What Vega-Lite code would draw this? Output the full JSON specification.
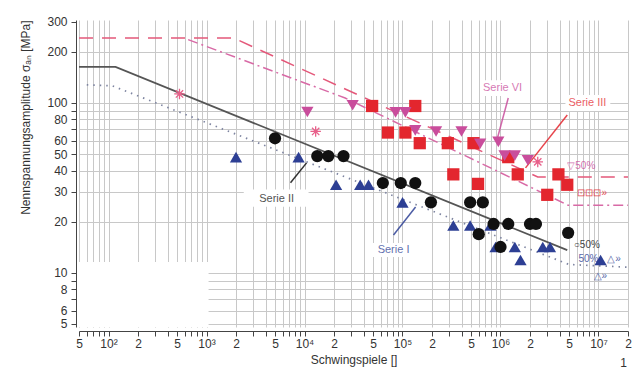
{
  "$schema": "https://vega.github.io/schema/vega-lite/v6.json",
  "width": 549,
  "height": 307,
  "autosize": {"type": "none"},
  "padding": {"left": 79, "top": 20, "right": 10, "bottom": 54},
  "background": "white",
  "config": {"view": {"stroke": null}, "font": "Liberation Sans"},
  "layer": [
    {
      "data": {"values": [
        {"box": "legend", "n0": 50, "n1": 1050, "s0": 4.8, "s1": 11.6},
        {"box": "Serie II", "n0": 2400, "n1": 11000, "s0": 24.5, "s1": 31},
        {"box": "Serie I", "n0": 49000, "n1": 130000, "s0": 12.4, "s1": 15.0},
        {"box": "Serie VI", "n0": 625000, "n1": 1800000, "s0": 110, "s1": 136},
        {"box": "Serie III", "n0": 4600000, "n1": 13200000, "s0": 89.7, "s1": 111.5}
      ]},
      "mark": {"type": "rect", "fill": "white"},
      "encoding": {
        "x": {"field": "n0", "type": "quantitative",
          "scale": {"type": "log", "domain": [50, 20000000], "nice": false},
          "axis": {
            "values": [50,60,70,80,90,100,200,300,400,500,600,700,800,900,1000,2000,3000,4000,5000,6000,7000,8000,9000,10000,20000,30000,40000,50000,60000,70000,80000,90000,100000,200000,300000,400000,500000,600000,700000,800000,900000,1000000,2000000,3000000,4000000,5000000,6000000,7000000,8000000,9000000,10000000,20000000],
            "labelExpr": "round(datum.value/pow(10,floor(log(datum.value)/LN10+1e-6))) == 1 ? '10' + ['⁰','¹','²','³','⁴','⁵','⁶','⁷'][floor(log(datum.value)/LN10+1e-6)] : ((round(datum.value/pow(10,floor(log(datum.value)/LN10+1e-6))) == 2 || round(datum.value/pow(10,floor(log(datum.value)/LN10+1e-6))) == 5) ? '' + round(datum.value/pow(10,floor(log(datum.value)/LN10+1e-6))) : '')",
            "labelOverlap": false, "labelFlush": false,
            "labelFontSize": 12, "labelColor": "#333", "labelPadding": 2,
            "offset": 4, "tickSize": 5, "tickColor": "#444", "domainColor": "#444",
            "grid": true, "gridColor": "#c8c8c8", "gridWidth": 1,
            "title": "Schwingspiele []", "titleFontSize": 12, "titleFontWeight": "normal",
            "titleColor": "#333", "titlePadding": 5
          }},
        "x2": {"field": "n1"},
        "y": {"field": "s0", "type": "quantitative",
          "scale": {"type": "log", "domain": [4.8, 308], "nice": false},
          "axis": {
            "values": [5,6,7,8,9,10,20,30,40,50,60,70,80,90,100,200,300],
            "labelExpr": "indexof([7,9,70,90], datum.value) >= 0 ? '' : '' + datum.value",
            "labelOverlap": false, "labelFlush": false,
            "labelFontSize": 12, "labelColor": "#333", "labelPadding": 4,
            "offset": 3, "tickSize": 5, "tickColor": "#444", "domainColor": "#444",
            "grid": true, "gridColor": "#c8c8c8", "gridWidth": 1,
            "gridOpacity": {"condition": {"test": "datum.value == 300", "value": 0}, "value": 1},
            "title": "Nennspannungsamplitude σₐₙ [MPa]", "titleFontSize": 12, "titleFontWeight": "normal",
            "titleColor": "#333", "titleAnchor": "end", "titlePadding": 14
          }},
        "y2": {"field": "s1"}
      }
    },
    {
      "data": {"values": [
        {"n": 50, "s": 241}, {"n": 1900, "s": 241}, {"n": 2400000, "s": 36.7}, {"n": 20000000, "s": 36.7}
      ]},
      "mark": {"type": "line", "color": "#e4587a", "strokeWidth": 1.5, "strokeDash": [14, 9]},
      "encoding": {"x": {"field": "n", "type": "quantitative"}, "y": {"field": "s", "type": "quantitative"}}
    },
    {
      "data": {"values": [
        {"n": 650, "s": 236}, {"n": 26000, "s": 107}, {"n": 4900000, "s": 25}, {"n": 20000000, "s": 25}
      ]},
      "mark": {"type": "line", "color": "#d86aa6", "strokeWidth": 1.5, "strokeDash": [10, 4, 2, 4]},
      "encoding": {"x": {"field": "n", "type": "quantitative"}, "y": {"field": "s", "type": "quantitative"}}
    },
    {
      "data": {"values": [
        {"n": 60, "s": 128}, {"n": 110, "s": 126}, {"n": 5000000, "s": 11.2}, {"n": 20000000, "s": 10.8}
      ]},
      "mark": {"type": "line", "color": "#7d84a0", "strokeWidth": 1.7, "strokeDash": [1.5, 5]},
      "encoding": {"x": {"field": "n", "type": "quantitative"}, "y": {"field": "s", "type": "quantitative"}}
    },
    {
      "data": {"values": [
        {"n": 50, "s": 163}, {"n": 118, "s": 163}, {"n": 4800000, "s": 13.6}
      ]},
      "mark": {"type": "line", "color": "#555555", "strokeWidth": 1.8},
      "encoding": {"x": {"field": "n", "type": "quantitative"}, "y": {"field": "s", "type": "quantitative"}}
    },
    {
      "data": {"values": [
        {"series": "Serie II", "n1": 7200, "s1": 33.9, "n2": 10500, "s2": 44.4},
        {"series": "Serie I", "n1": 81000, "s1": 16.7, "n2": 136000, "s2": 24.4},
        {"series": "Serie VI", "n1": 1200000, "s1": 107, "n2": 930000, "s2": 62},
        {"series": "Serie III", "n1": 4800000, "s1": 85, "n2": 1800000, "s2": 41.5}
      ]},
      "mark": {"type": "rule", "strokeWidth": 1.5, "opacity": 0.85},
      "encoding": {
        "x": {"field": "n1", "type": "quantitative"}, "x2": {"field": "n2"},
        "y": {"field": "s1", "type": "quantitative"}, "y2": {"field": "s2"},
        "color": {"field": "series", "type": "nominal", "legend": null,
          "scale": {"domain": ["Serie I", "Serie II", "Serie III", "Serie VI"], "range": ["#2d3f94", "#111111", "#e3262e", "#c94d9c"]}}
      }
    },
    {
      "data": {"values": [
        {"series": "Serie I", "n": 2000, "s": 48}, {"series": "Serie I", "n": 8700, "s": 48},
        {"series": "Serie I", "n": 21000, "s": 33}, {"series": "Serie I", "n": 37000, "s": 33},
        {"series": "Serie I", "n": 45000, "s": 33}, {"series": "Serie I", "n": 100000, "s": 26},
        {"series": "Serie I", "n": 330000, "s": 19}, {"series": "Serie I", "n": 490000, "s": 19},
        {"series": "Serie I", "n": 790000, "s": 19}, {"series": "Serie I", "n": 890000, "s": 14.2},
        {"series": "Serie I", "n": 1400000, "s": 14.2}, {"series": "Serie I", "n": 1600000, "s": 11.9},
        {"series": "Serie I", "n": 2700000, "s": 14.2}, {"series": "Serie I", "n": 3200000, "s": 14.2},
        {"series": "Serie I", "n": 10500000, "s": 11.9},
        {"series": "Serie II", "n": 5000, "s": 62}, {"series": "Serie II", "n": 13500, "s": 48.7},
        {"series": "Serie II", "n": 17500, "s": 48.7}, {"series": "Serie II", "n": 25000, "s": 48.7},
        {"series": "Serie II", "n": 63000, "s": 33.8}, {"series": "Serie II", "n": 96000, "s": 33.8},
        {"series": "Serie II", "n": 135000, "s": 33.8}, {"series": "Serie II", "n": 195000, "s": 26},
        {"series": "Serie II", "n": 490000, "s": 26}, {"series": "Serie II", "n": 660000, "s": 26},
        {"series": "Serie II", "n": 600000, "s": 16.9}, {"series": "Serie II", "n": 850000, "s": 19.4},
        {"series": "Serie II", "n": 1200000, "s": 19.4}, {"series": "Serie II", "n": 2000000, "s": 19.4},
        {"series": "Serie II", "n": 2300000, "s": 19.4}, {"series": "Serie II", "n": 1000000, "s": 14.2},
        {"series": "Serie II", "n": 4900000, "s": 17.2},
        {"series": "Serie III", "n": 49000, "s": 96}, {"series": "Serie III", "n": 135000, "s": 96},
        {"series": "Serie III", "n": 71000, "s": 67}, {"series": "Serie III", "n": 107000, "s": 67},
        {"series": "Serie III", "n": 150000, "s": 58}, {"series": "Serie III", "n": 290000, "s": 58},
        {"series": "Serie III", "n": 530000, "s": 58}, {"series": "Serie III", "n": 330000, "s": 38},
        {"series": "Serie III", "n": 590000, "s": 33.4}, {"series": "Serie III", "n": 1200000, "s": 48},
        {"series": "Serie III", "n": 1500000, "s": 38}, {"series": "Serie III", "n": 3000000, "s": 28.8},
        {"series": "Serie III", "n": 3900000, "s": 38}, {"series": "Serie III", "n": 4800000, "s": 33},
        {"series": "Serie VI", "n": 10700, "s": 88.5}, {"series": "Serie VI", "n": 31000, "s": 97},
        {"series": "Serie VI", "n": 85000, "s": 88}, {"series": "Serie VI", "n": 107000, "s": 88},
        {"series": "Serie VI", "n": 135000, "s": 69}, {"series": "Serie VI", "n": 220000, "s": 68},
        {"series": "Serie VI", "n": 400000, "s": 68}, {"series": "Serie VI", "n": 620000, "s": 57.5},
        {"series": "Serie VI", "n": 950000, "s": 59}, {"series": "Serie VI", "n": 1100000, "s": 49},
        {"series": "Serie VI", "n": 1400000, "s": 49}, {"series": "Serie VI", "n": 1900000, "s": 46}
      ]},
      "mark": {"type": "point", "filled": true, "opacity": 1, "size": 150},
      "encoding": {
        "x": {"field": "n", "type": "quantitative"},
        "y": {"field": "s", "type": "quantitative"},
        "color": {"field": "series", "type": "nominal", "legend": null},
        "shape": {"field": "series", "type": "nominal", "legend": null,
          "scale": {"domain": ["Serie I", "Serie II", "Serie III", "Serie VI"], "range": ["triangle-up", "circle", "square", "triangle-down"]}}
      }
    },
    {
      "data": {"values": [
        {"n": 530, "s": 113}, {"n": 13000, "s": 68}, {"n": 2400000, "s": 45}
      ]},
      "mark": {"type": "point", "shape": "M-1,0L1,0M0,-1L0,1M-0.7,-0.7L0.7,0.7M-0.7,0.7L0.7,-0.7", "filled": false, "stroke": "#e8608a", "strokeWidth": 1.3, "size": 110, "opacity": 1},
      "encoding": {"x": {"field": "n", "type": "quantitative"}, "y": {"field": "s", "type": "quantitative"}}
    },
    {
      "data": {"values": [
        {"series": "Serie II", "label": "Serie II", "n": 5200, "s": 27.2},
        {"series": "Serie I", "label": "Serie I", "n": 81000, "s": 13.6},
        {"series": "Serie VI", "label": "Serie VI", "n": 1050000, "s": 122},
        {"series": "Serie III", "label": "Serie III", "n": 7700000, "s": 100}
      ]},
      "mark": {"type": "text", "fontSize": 11, "opacity": 0.75, "align": "center", "baseline": "middle"},
      "encoding": {
        "x": {"field": "n", "type": "quantitative"},
        "y": {"field": "s", "type": "quantitative"},
        "text": {"field": "label"},
        "color": {"field": "series", "type": "nominal", "legend": null}
      }
    },
    {
      "data": {"values": [
        {"series": "Serie VI", "label": "▽50%", "n": 4800000, "s": 42.6},
        {"series": "Serie III", "label": "⊡⊡⊡»", "n": 6100000, "s": 29.5},
        {"series": "Serie II", "label": "○50%", "n": 5600000, "s": 14.6},
        {"series": "Serie I", "label": "50%", "n": 6250000, "s": 12.1},
        {"series": "Serie I", "label": "△»", "n": 12300000, "s": 12.1},
        {"series": "Serie I", "label": "△»", "n": 8900000, "s": 9.6}
      ]},
      "mark": {"type": "text", "fontSize": 10, "opacity": 0.8, "align": "left", "baseline": "middle"},
      "encoding": {
        "x": {"field": "n", "type": "quantitative"},
        "y": {"field": "s", "type": "quantitative"},
        "text": {"field": "label"},
        "color": {"field": "series", "type": "nominal", "legend": null}
      }
    },
    {
      "data": {"values": [{"label": "1", "n": 18000000, "s": 2.95}]},
      "mark": {"type": "text", "fontSize": 12, "color": "#333", "align": "center", "baseline": "middle", "clip": false},
      "encoding": {
        "x": {"field": "n", "type": "quantitative"},
        "y": {"field": "s", "type": "quantitative"},
        "text": {"field": "label"}
      }
    }
  ]
}
